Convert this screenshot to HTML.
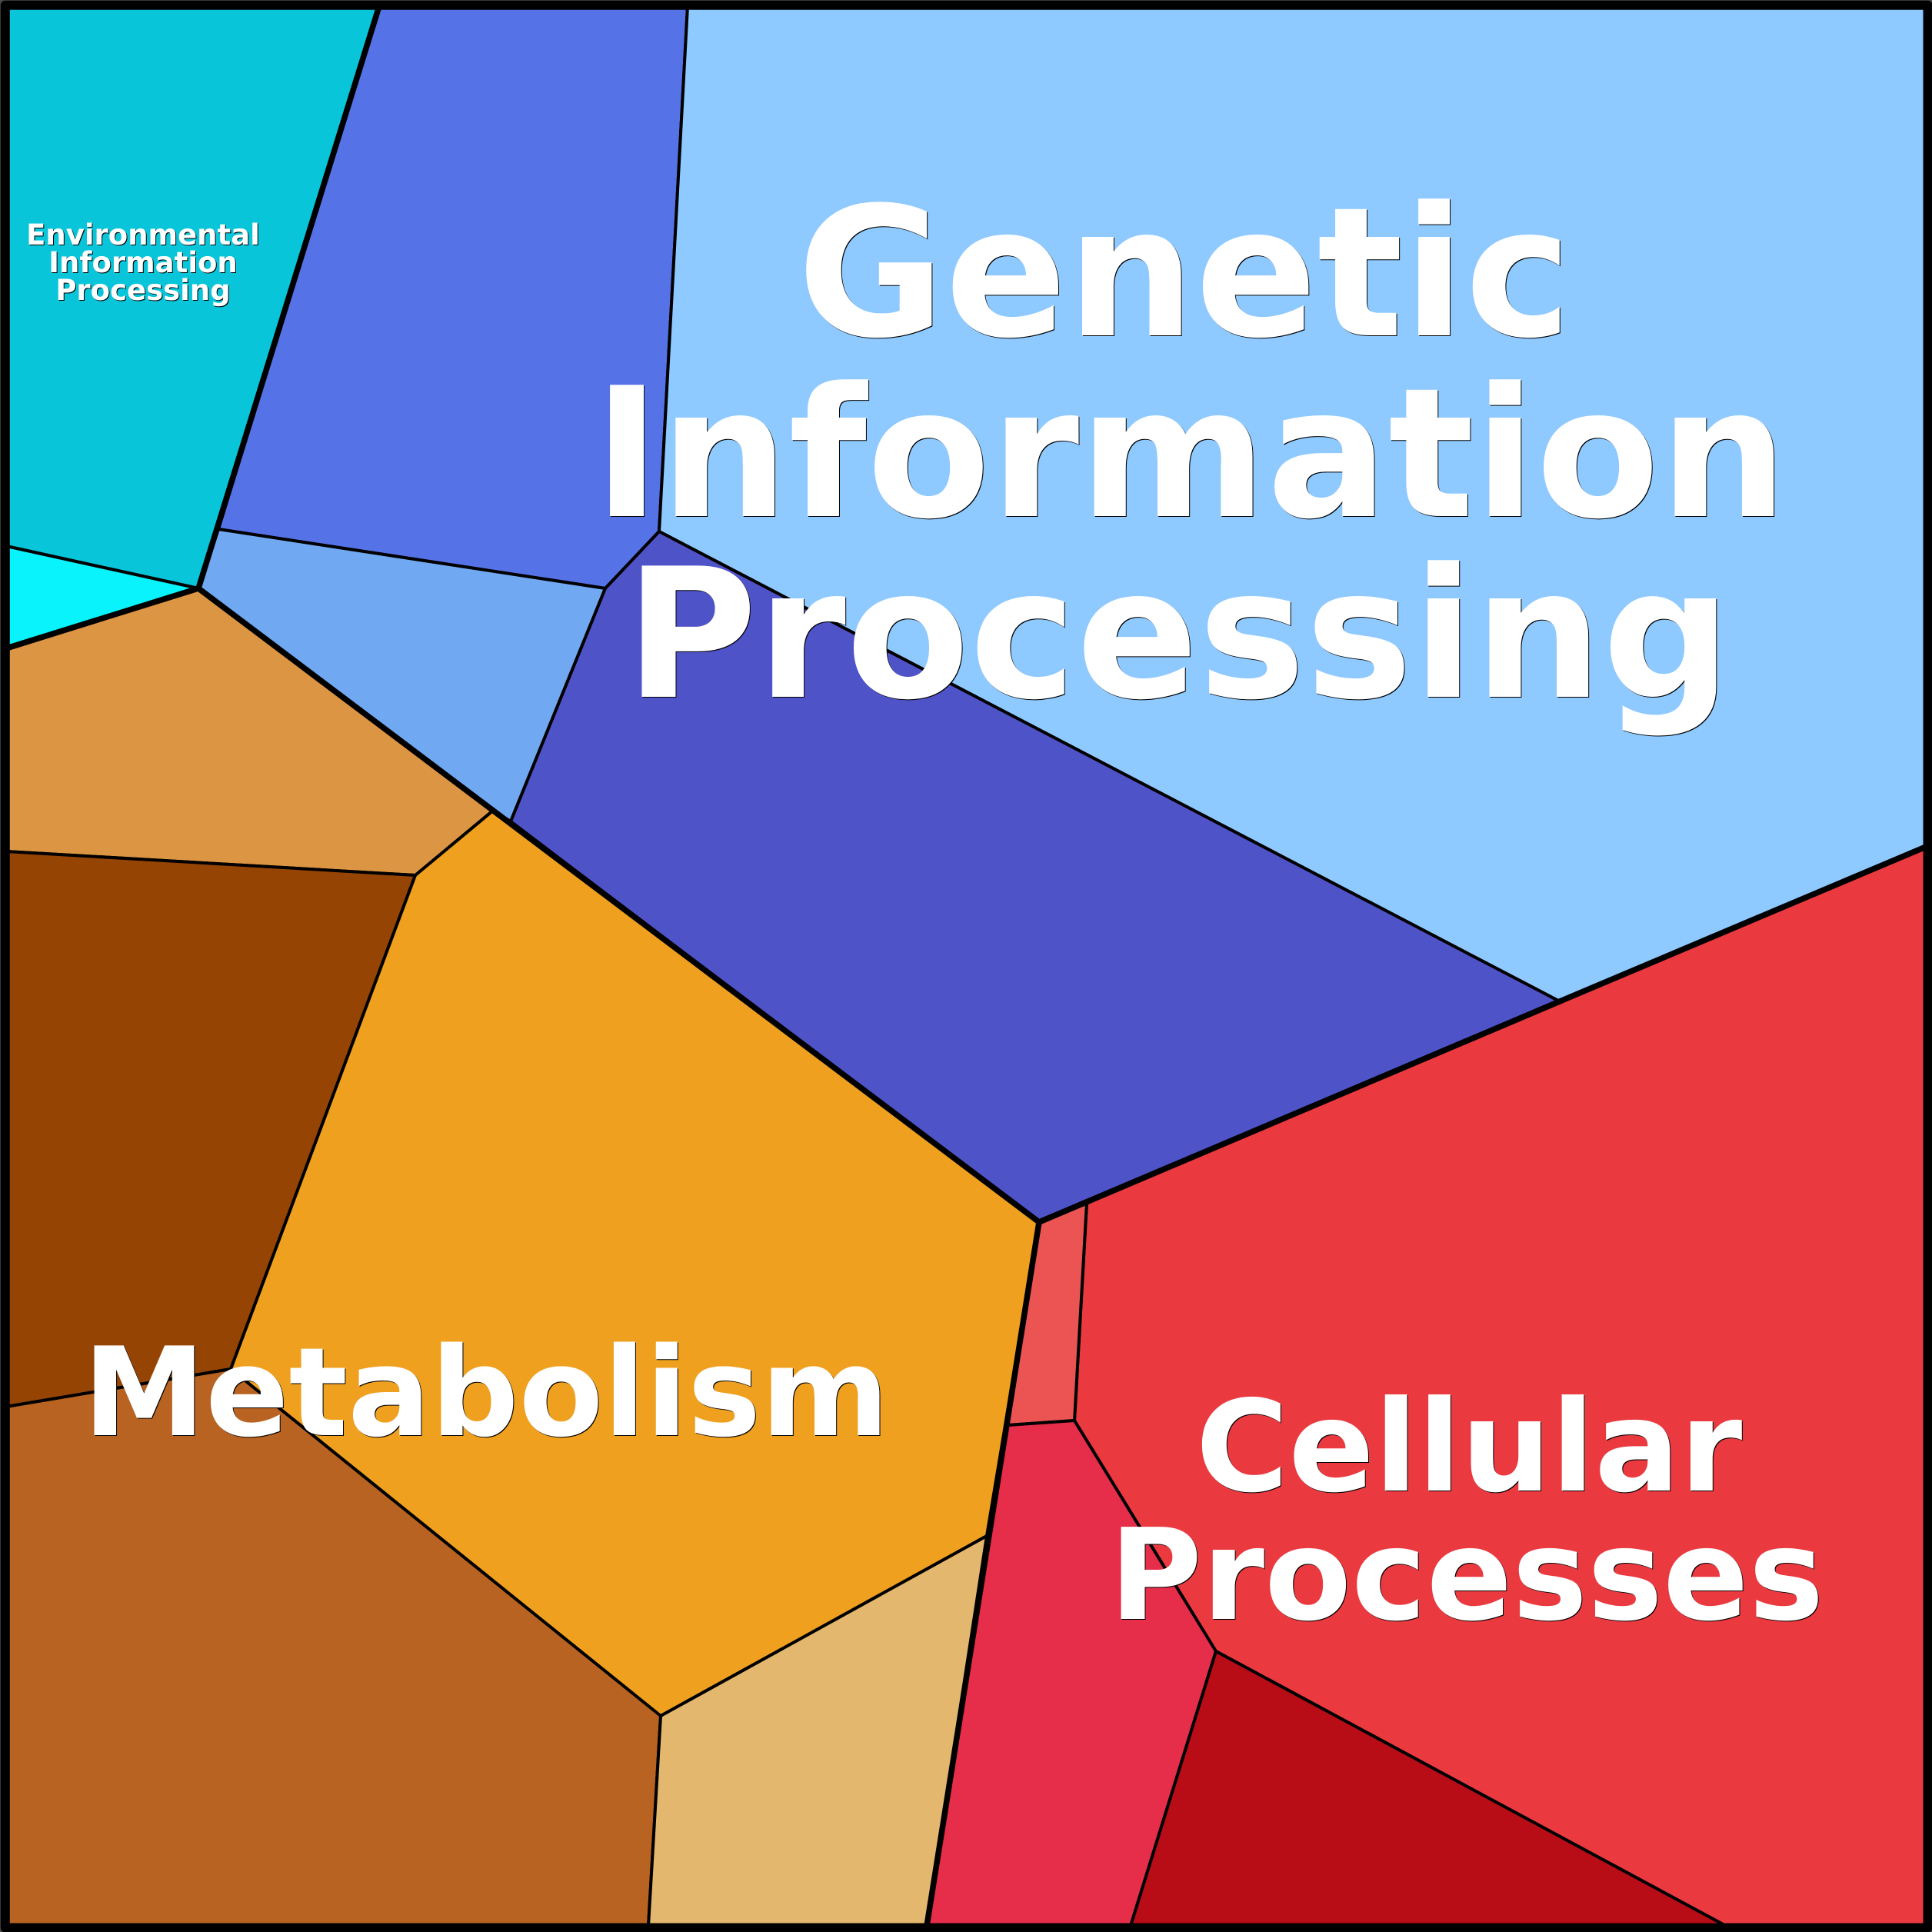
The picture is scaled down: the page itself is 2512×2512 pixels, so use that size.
<!DOCTYPE html>
<html>
<head>
<meta charset="utf-8">
<style>
html,body{margin:0;padding:0;background:#4a4a4a;width:2512px;height:2512px;overflow:hidden}
svg{display:block}
text{font-family:"DejaVu Sans",sans-serif;font-weight:bold;fill:#fff;text-anchor:middle}
.sh{filter:drop-shadow(1px 1px 0 #000)}
</style>
</head>
<body>
<svg xmlns="http://www.w3.org/2000/svg" width="2512" height="2512" viewBox="0 0 2512 2512">
<rect width="2512" height="2512" fill="#4a4a4a"/>
<g stroke="#000" stroke-width="4" stroke-linejoin="round">
<polygon fill="#08c5d9" points="8,8 493,8 258,765 8,710"/>
<polygon fill="#08f3fb" points="8,710 258,765 8,843"/>
<polygon fill="#5573e6" points="493,8 894,8 857,691 787,765 284,688"/>
<polygon fill="#70a9f2" points="284,688 787,765 664,1068 641,1054 258,765"/>
<polygon fill="#8ec9ff" points="894,8 2504,8 2504,1101 2028,1302 857,691"/>
<polygon fill="#4f53c8" points="857,691 2028,1302 1351,1589 664,1068 787,765"/>
<polygon fill="#dc9543" points="8,843 258,765 641,1054 540,1138 8,1107"/>
<polygon fill="#964404" points="8,1107 540,1138 300,1780 8,1829"/>
<polygon fill="#efa01f" points="641,1054 1351,1589 1283,1997 859,2231 300,1780 540,1138"/>
<polygon fill="#b86321" points="8,1829 300,1780 859,2231 843,2504 8,2504"/>
<polygon fill="#e3b76d" points="859,2231 1283,1997 1205,2504 843,2504"/>
<polygon fill="#ea3a40" points="1413,1564 2504,1101 2504,2504 2244,2504 1581,2147 1397,1847"/>
<polygon fill="#ec5454" points="1351,1589 1413,1564 1397,1847 1310,1853"/>
<polygon fill="#e62d4a" points="1310,1853 1397,1847 1581,2147 1470,2504 1205,2504"/>
<polygon fill="#b80d17" points="1581,2147 2244,2504 1470,2504"/>
</g>
<g fill="none" stroke="#000" stroke-width="7.5" stroke-linejoin="round">
<polyline points="493,8 258,765 8,843"/>
<polyline points="258,765 1351,1589 2028,1302 2504,1101"/>
<polyline points="1351,1589 1205,2504"/>
</g>
<rect x="6.8" y="6.8" width="2499.7" height="2499.7" fill="none" stroke="#000" stroke-width="12" stroke-linejoin="round"/>
<g class="sh">
<text x="1540" y="436" font-size="234">Genetic</text>
<text x="1548" y="671" font-size="234">Information</text>
<text x="1532" y="906" font-size="234">Processing</text>
<text x="632" y="1866" font-size="160">Metabolism</text>
<text x="1910" y="1938" font-size="164.5">Cellular</text>
<text x="1907" y="2105" font-size="164.5">Processes</text>
<text x="186" y="318" font-size="37">Environmental</text>
<text x="186" y="354" font-size="37">Information</text>
<text x="186" y="390" font-size="37">Processing</text>
</g>
</svg>
</body>
</html>
